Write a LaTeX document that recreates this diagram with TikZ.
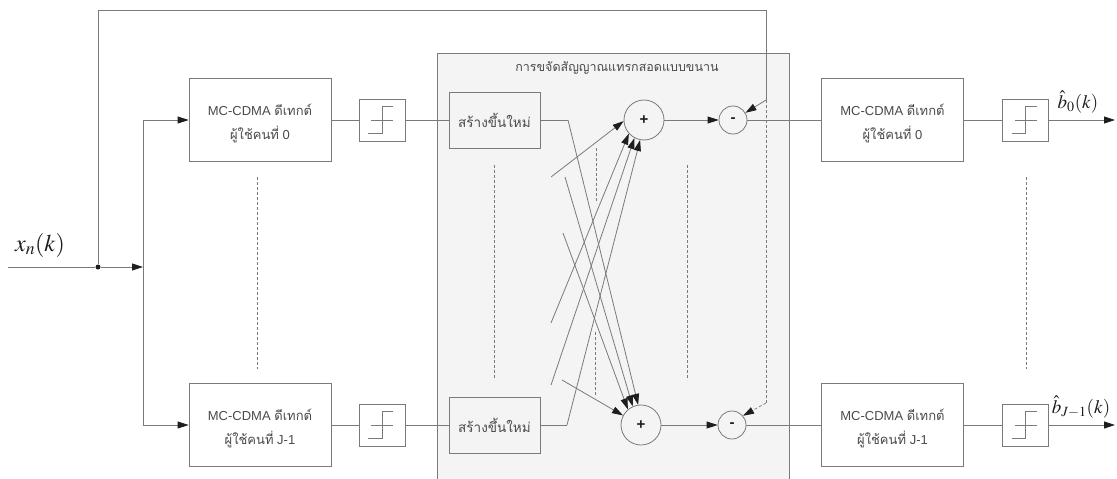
\documentclass[tikz,border=0pt]{standalone}
\usepackage{mathptmx}
\usepackage[no-math]{fontspec}
\setmainfont{Liberation Sans}
\newfontfamily\thaifont[Script=Thai]{Loma}
\usetikzlibrary{arrows.meta}
\definecolor{ln}{HTML}{7A7A7A}
\definecolor{txt}{HTML}{4A4A4A}
\definecolor{panel}{HTML}{F4F4F4}
\definecolor{tipc}{HTML}{1E1E1E}
\newcommand{\thtext}[1]{{\thaifont #1}}
\begin{document}
\begin{tikzpicture}[x=1pt,y=-1pt,
  line/.style={draw=ln, line width=0.8pt},
  arr/.style={line, -{Triangle[length=11pt,width=7pt,color=tipc]}},
  dsh/.style={draw=ln, line width=0.7pt, dash pattern=on 3pt off 2pt},
  darr/.style={dsh, -{Triangle[length=11pt,width=7pt,color=tipc]}},
  detbox/.style={draw=ln, line width=0.8pt, minimum width=142pt, minimum height=83pt,
    inner sep=0pt},
  dettext/.style={align=center, text=txt, inner sep=0pt, font=\fontsize{13}{24}\selectfont},
  slicer/.style={draw=ln, line width=0.8pt, minimum width=46pt, minimum height=42pt, inner sep=0pt},
  regenbox/.style={draw=ln, line width=0.8pt, minimum width=91pt, minimum height=56pt,
    inner sep=0pt, text=txt, font=\thaifont\fontsize{13.5}{16}\selectfont},
  sumnode/.style={circle, draw=ln, line width=0.8pt, minimum size=40pt, inner sep=0pt,
    text=tipc, font=\fontsize{15}{15}\selectfont\bfseries},
  subnode/.style={circle, draw=ln, line width=0.8pt, minimum size=28pt, inner sep=0pt,
    text=tipc, font=\fontsize{15}{15}\selectfont\bfseries},
  steplines/.style={draw=ln, line width=0.8pt},
  lbl/.style={inner sep=0pt, text=tipc}
]
\useasboundingbox (0,0) rectangle (1117,479);
\fill[white] (0,0) rectangle (1117,479);
\clip (0,0) rectangle (1117,479);

% parallel interference cancellation panel
\node[draw=ln, fill=panel, line width=0.8pt, minimum width=352pt, minimum height=440pt,
      inner sep=0pt] (panel) at (613,273) {};
\node[text=txt, font=\thaifont\fontsize{12.5}{14}\selectfont] (ptitle) at (617,68)
  {การขจัดสัญญาณแทรกสอดแบบขนาน};

% first-stage detectors
\node[detbox] (b0) at (260,120) {};
\node[detbox] (b1) at (260,425) {};
\node[dettext] (b0t) at (260,123) {MC-CDMA \thtext{ดีเทกต์}\\\thtext{ผู้ใช้คนที่} 0};
\node[dettext] (b1t) at (260,428) {MC-CDMA \thtext{ดีเทกต์}\\\thtext{ผู้ใช้คนที่} J-1};
\node[slicer] (d0) at (382,120) {};
\node[slicer] (d1) at (382,425) {};

% regeneration, summation and subtraction
\node[regenbox] (r0) at (494.5,120) {สร้างขึ้นใหม่};
\node[regenbox] (r1) at (494.5,425) {สร้างขึ้นใหม่};
\node[sumnode] (p0) at (644,120) {+};
\node[sumnode] (p1) at (641,425) {+};
\node[subnode] (m0) at (733,120) {-};
\node[subnode] (m1) at (732,425) {-};

% second-stage detectors
\node[detbox] (c0) at (892.5,120) {};
\node[detbox] (c1) at (892.5,425) {};
\node[dettext] (c0t) at (892.5,123) {MC-CDMA \thtext{ดีเทกต์}\\\thtext{ผู้ใช้คนที่} 0};
\node[dettext] (c1t) at (892.5,428) {MC-CDMA \thtext{ดีเทกต์}\\\thtext{ผู้ใช้คนที่} J-1};
\node[slicer] (e0) at (1025.5,120) {};
\node[slicer] (e1) at (1025.5,425) {};

% hard-decision symbols
\foreach \s in {d0,d1,e0,e1}{
  \draw[steplines, shift={(\s.center)}] (-14,13) -- (0,13) -- (0,-14) -- (11,-14)
        (-11,0) -- (11,0);
}

% input and its branching
\coordinate (inp) at (8,267);
\node[circle, fill=tipc, inner sep=0pt, minimum size=5pt] (dot) at (98,267) {};
\coordinate (split) at (143,267);
\node[lbl, font=\fontsize{24}{24}\selectfont] (xlab) at (40,245) {$x_n(k)$};
\draw[line] (inp) -- (dot);
\draw[arr] (dot) -- (split);
\draw[arr] (split) |- (b0.west);
\draw[arr] (split) |- (b1.west);

% first stage chain
\draw[line] (b0.east) -- (d0.west);
\draw[line] (b1.east) -- (d1.west);
\draw[line] (d0.east) -- (r0.west);
\draw[line] (d1.east) -- (r1.west);

% regenerated signals crossing to the other user's adder
\coordinate (r0k) at (568,120);
\coordinate (r1k) at (567,425);
\draw[line] (r0.east) -- (r0k);
\draw[line] (r1.east) -- (r1k);
\draw[arr] (r0k) -- (p1.98);
\draw[arr] (r1k) -- (p0.259);

\coordinate (u0a) at (551,177);
\coordinate (u0b) at (551,323);
\coordinate (u0c) at (551,385);
\draw[arr] (u0a) -- (p0.183);
\draw[arr] (u0b) -- (p0.222);
\draw[arr] (u0c) -- (p0.242);

\coordinate (u1a) at (562,380);
\coordinate (u1b) at (563,233);
\coordinate (u1c) at (565,177);
\draw[arr] (u1a) -- (p1.152);
\draw[arr] (u1b) -- (p1.130);
\draw[arr] (u1c) -- (p1.114);

% adders to subtractors
\draw[arr] (p0.east) -- (m0.west);
\draw[arr] (p1.east) -- (m1.west);

% feedback of the received signal
\coordinate (fbtop) at (766,10);
\coordinate (fbk0) at (766,100);
\coordinate (fbk1) at (766,403);
\draw[line] (dot) |- (fbtop) -- (fbk0);
\draw[arr] (fbk0) -- (m0.30);
\draw[dsh] (fbk0) -- (fbk1);
\draw[darr] (fbk1) -- (m1.40);

% second stage chain
\draw[line] (m0.east) -- (c0.west);
\draw[line] (m1.east) -- (c1.west);
\draw[line] (c0.east) -- (e0.west);
\draw[line] (c1.east) -- (e1.west);
\coordinate (out0) at (1115,120);
\coordinate (out1) at (1115,425);
\draw[arr] (e0.east) -- (out0);
\draw[arr] (e1.east) -- (out1);
\node[lbl, font=\fontsize{19}{19}\selectfont] (o0lab) at (1078,102) {$\hat{b}_0(k)$};
\node[lbl, font=\fontsize{19}{19}\selectfont] (o1lab) at (1081,407) {$\hat{b}_{J-1}(k)$};

% ellipsis lines between users
\coordinate (v1a) at (257,177);   \coordinate (v1b) at (257,369);
\coordinate (v2a) at (494,165);   \coordinate (v2b) at (494,380);
\coordinate (v3a) at (596,148);   \coordinate (v3b) at (596,203);
\coordinate (v4a) at (595,332);   \coordinate (v4b) at (595,397);
\coordinate (v5a) at (687,165);   \coordinate (v5b) at (687,380);
\coordinate (v6a) at (1026,177);  \coordinate (v6b) at (1026,369);
\foreach \a/\b in {v1a/v1b,v2a/v2b,v3a/v3b,v4a/v4b,v5a/v5b,v6a/v6b}
  \draw[dsh] (\a) -- (\b);
\end{tikzpicture}
\end{document}
